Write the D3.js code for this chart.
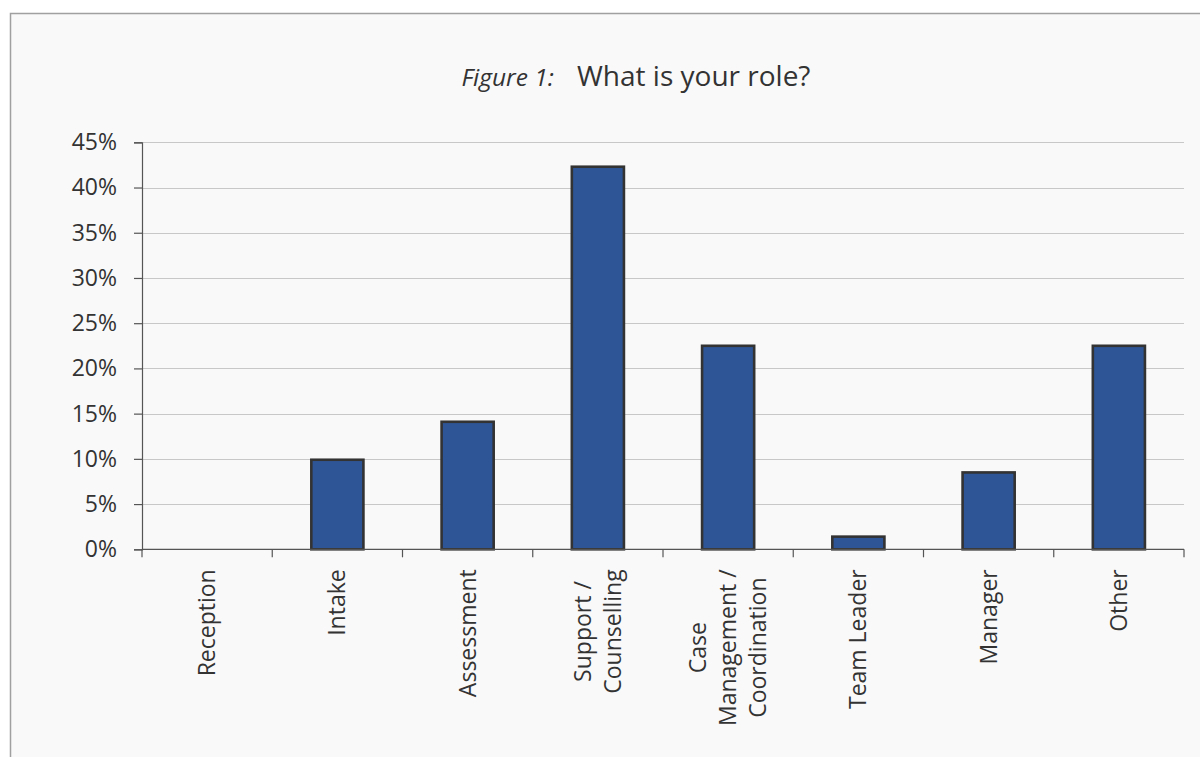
<!DOCTYPE html>
<html>
<head>
<meta charset="utf-8">
<script src="https://cdn.jsdelivr.net/npm/d3@7"></script>
<style>
  html, body { margin: 0; padding: 0; background: #ffffff; }
  svg { display: block; }
  text { font-family: "Open Sans", "Noto Sans", sans-serif; fill: #333333; }
</style>
</head>
<body>
<svg id="chart" width="1200" height="757"></svg>
<script>
// Survey responses: share of respondents per role (multiple roles allowed)
const categories = [
  ["Reception"],
  ["Intake"],
  ["Assessment"],
  ["Support /", "Counselling"],
  ["Case", "Management /", "Coordination"],
  ["Team Leader"],
  ["Manager"],
  ["Other"]
];
const values = [0, 9.9, 14.1, 42.3, 22.5, 1.4, 8.5, 22.5];
const yTicks = [0, 5, 10, 15, 20, 25, 30, 35, 40, 45];
const titlePrefix = "Figure 1:";
const titleText = "What is your role?";

const svg = d3.select("#chart");
const W = 1200, H = 757;

// Chart frame
svg.append("rect")
  .attr("x", 10.5).attr("y", 13.5)
  .attr("width", W + 20).attr("height", H + 20)
  .attr("fill", "#f9f9f9")
  .attr("stroke", "#a0a0a0")
  .attr("stroke-width", 1.5);

const plot = { left: 142, right: 1184, top: 142.3, bottom: 549.3 };

const keys = categories.map((c, i) => i);
const x = d3.scaleBand()
  .domain(keys)
  .range([plot.left, plot.right])
  .paddingInner(0.6)
  .paddingOuter(0.3);

const xEdges = d3.scaleBand().domain(keys).range([plot.left, plot.right]).padding(0);

const y = d3.scaleLinear().domain([0, 45]).range([plot.bottom, plot.top]);

// Horizontal gridlines
svg.append("g")
  .selectAll("line")
  .data(yTicks.filter(t => t > 0))
  .join("line")
  .attr("x1", plot.left).attr("x2", plot.right)
  .attr("y1", d => Math.round(y(d)) + 0.5).attr("y2", d => Math.round(y(d)) + 0.5)
  .attr("stroke", "#c8c8c8")
  .attr("stroke-width", 1.2);

// Y axis
const yAxis = d3.axisLeft(y)
  .tickValues(yTicks)
  .tickFormat(d => d + "%")
  .tickSize(8)
  .tickPadding(17);
const gy = svg.append("g")
  .attr("transform", `translate(${plot.left},0)`)
  .call(yAxis);
gy.select(".domain").attr("stroke", "#555555").attr("stroke-width", 1.2);
gy.selectAll(".tick line").attr("stroke", "#555555").attr("stroke-width", 1.2);
gy.selectAll(".tick text")
  .attr("font-size", 23)
  .attr("fill", "#333333")
  .style("font-family", '"Open Sans", sans-serif');

// Bars
svg.append("g")
  .selectAll("rect")
  .data(values)
  .join("rect")
  .attr("x", (d, i) => x(i))
  .attr("width", x.bandwidth())
  .attr("y", d => y(d))
  .attr("height", d => y(0) - y(d))
  .attr("fill", d => d > 0 ? "#2e5596" : "none")
  .attr("stroke", d => d > 0 ? "#333333" : "none")
  .attr("stroke-width", 2.6);

// X axis baseline and ticks at band edges
const gx = svg.append("g");
gx.append("line")
  .attr("x1", plot.left).attr("x2", plot.right)
  .attr("y1", y(0)).attr("y2", y(0))
  .attr("stroke", "#555555").attr("stroke-width", 1.2);
const edges = keys.map(k => xEdges(k) + xEdges.bandwidth());
gx.selectAll("line.tick")
  .data([plot.left].concat(edges))
  .join("line")
  .attr("class", "tick")
  .attr("x1", d => d).attr("x2", d => d)
  .attr("y1", y(0)).attr("y2", y(0) + 8)
  .attr("stroke", "#555555").attr("stroke-width", 1.2);

// Rotated category labels: block hangs from just below the axis,
// lines centred on one another
const lineH = 30;
const labelGap = 20;
const labels = gx.selectAll("g.lab")
  .data(categories)
  .join("g")
  .attr("class", "lab")
  .attr("transform", (d, i) => `translate(${x(i) + x.bandwidth() / 2},${y(0) + labelGap}) rotate(-90)`);
labels.each(function(lines) {
  const g = d3.select(this);
  const n = lines.length;
  const nodes = lines.map((t, j) => g.append("text")
    .attr("y", (j - (n - 1) / 2) * lineH)
    .attr("dy", "0.35em")
    .attr("text-anchor", "middle")
    .attr("font-size", 23)
    .text(t));
  const longest = d3.max(nodes, s => s.node().getComputedTextLength());
  nodes.forEach(s => s.attr("x", -longest / 2));
});

// Title
svg.append("text")
  .attr("x", 554).attr("y", 86)
  .attr("text-anchor", "end")
  .attr("font-size", 24.5)
  .attr("font-style", "italic")
  .text(titlePrefix);
svg.append("text")
  .attr("x", 577).attr("y", 86)
  .attr("font-size", 28)
  .text(titleText);
</script>
</body>
</html>
